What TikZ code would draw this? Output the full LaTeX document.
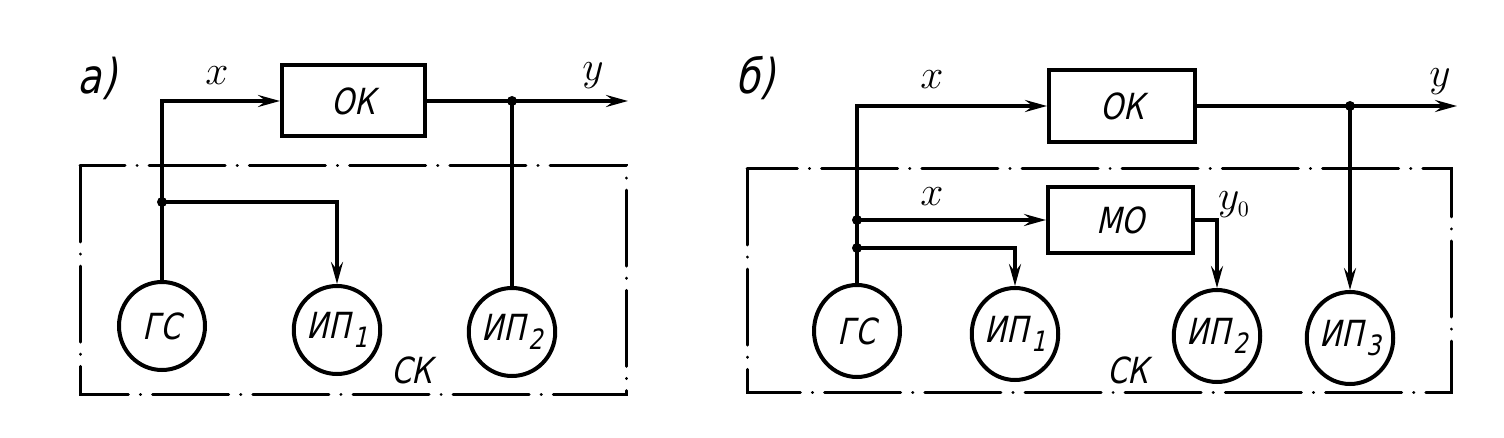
\documentclass[tikz,border=0pt]{standalone}
\usepackage{fontspec}
\newfontfamily\gost{DejaVu Sans Condensed}[FakeSlant=0.22,FakeStretch=0.9]
\usetikzlibrary{arrows.meta,shapes.geometric}
\newcommand{\sub}[1]{\kern1.5pt\raisebox{-0.45ex}{\fontsize{14}{14}\selectfont #1}}
\begin{document}
\begin{tikzpicture}[x=0.5pt,y=-0.5pt,
  wire/.style={line width=2.2pt},
  arr/.style={wire,-{Stealth[length=11pt,width=6pt,inset=4pt]}},
  blk/.style={draw,line width=2pt,inner sep=0pt,font=\gost\fontsize{18}{18}\selectfont},
  ring/.style={draw,ellipse,line width=2pt,inner sep=0pt,minimum width=43pt,minimum height=#1,font=\gost\fontsize{18}{18}\selectfont},
  ring/.default=44pt,
  frame/.style={line width=1.5pt,dash pattern=on 38pt off 6pt on 0.1pt off 6pt,line cap=round},
  dot/.style={circle,fill,inner sep=0pt,minimum size=5pt},
  tag/.style={font=\gost\fontsize{24}{24}\selectfont},
  var/.style={font=\fontsize{22}{22}\selectfont},
  sk/.style={font=\gost\fontsize{18}{18}\selectfont}]
\useasboundingbox (0,0) rectangle (1504,438);
% ---------- a) ----------
\draw[frame] (80,166) rectangle (626,394);
\node[tag] (ta) at (97,78) {а)};
\node[blk,minimum width=71.5pt,minimum height=35.5pt] (ok1) at (353.5,101) {ОК};
\node[ring] (gs1) at (162,326) {ГС};
\node[ring] (ip11) at (337,330) {ИП\sub{1}};
\node[ring] (ip12) at (512,332) {ИП\sub{2}};
\node[dot] (d1) at (162,202) {};
\node[dot] (j1) at (512,101) {};
\coordinate (ye1) at (628,101);
\draw[arr] (gs1.north) |- (ok1.west);
\draw[arr] (d1.center) -| (ip11.north);
\draw[arr] (ok1.east) -- (ye1);
\draw[wire] (j1.center) -- (ip12.north);
\node[var] (xa) at (217,76) {$x$};
\node[var] (ya) at (593,76) {$y$};
\node[sk] (ska) at (412,370) {СК};
% ---------- b) ----------
\draw[frame] (747,169) rectangle (1451,392);
\node[tag] (tb) at (755,78) {б)};
\node[blk,minimum width=73pt,minimum height=36pt] (ok2) at (1122,106) {ОК};
\node[blk,minimum width=72.5pt,minimum height=33pt] (mo) at (1120.5,220) {МО};
\node[ring=46pt] (gs2) at (857,331) {ГС};
\node[ring=46pt] (ip21) at (1015,334) {ИП\sub{1}};
\node[ring=46pt] (ip22) at (1217,336) {ИП\sub{2}};
\node[ring=46pt] (ip23) at (1350,338) {ИП\sub{3}};
\node[dot] (d2) at (857,220) {};
\node[dot] (d3) at (857,248) {};
\node[dot] (j2) at (1350,106) {};
\coordinate (ye2) at (1457,106);
\draw[arr] (gs2.north) |- (ok2.west);
\draw[arr] (d2.center) -- (mo.west);
\draw[arr] (d3.center) -| (ip21.north);
\draw[arr] (mo.east) -| (ip22.north);
\draw[arr] (ok2.east) -- (ye2);
\draw[arr] (j2.center) -- (ip23.north);
\node[var] (xb1) at (932,80) {$x$};
\node[var] (xb2) at (932,197) {$x$};
\node[var] (yb) at (1440,82) {$y$};
\node[var] (y0) at (1234,205) {$y_{\scriptscriptstyle 0}$};
\node[sk] (skb) at (1128,370) {СК};
\end{tikzpicture}
\end{document}
